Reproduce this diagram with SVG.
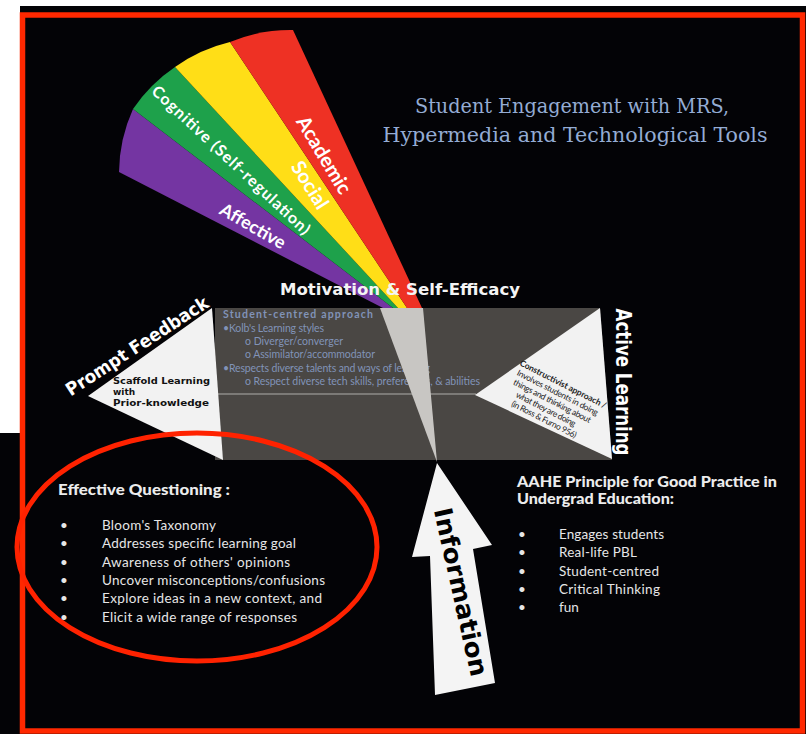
<svg xmlns="http://www.w3.org/2000/svg" width="810" height="734" viewBox="0 0 810 734">
<style>
.heavy{font-family:"DejaVu Sans",sans-serif;font-weight:bold}
.band{font-family:Lato,"Open Sans",sans-serif;font-weight:bold;fill:#ffffff;text-anchor:middle}
.boxt{font-family:Lato,"Open Sans",sans-serif;font-size:10.5px;fill:#8193b8}
.list{font-family:Lato,"Open Sans",sans-serif;font-size:13.5px;fill:#e6e6e6}
.listb{font-family:Lato,"Open Sans",sans-serif;font-size:15px;font-weight:900;fill:#ececec}
.con{font-family:Lato,"Open Sans",sans-serif;font-size:8.5px;fill:#222}
</style>
<rect x="0" y="0" width="810" height="734" fill="#ffffff"/>
<rect x="20" y="6" width="786" height="728" fill="#030306"/>
<rect x="0" y="433" width="22" height="301" fill="#030306"/>
<rect x="22.5" y="15" width="780" height="716" fill="#030306" stroke="#ff2800" stroke-width="5.5"/>

<g id="title">
<text x="572" y="113" font-family="'DejaVu Serif',serif" font-size="20" fill="#94acd4" text-anchor="middle" textLength="314" lengthAdjust="spacingAndGlyphs">Student Engagement with MRS,</text>
<text x="575" y="142" font-family="'DejaVu Serif',serif" font-size="20" fill="#94acd4" text-anchor="middle" textLength="385" lengthAdjust="spacingAndGlyphs">Hypermedia and Technological Tools</text>
</g>

<g id="fan">
<path d="M119,172 A157,157 0 0,1 133,109 L393,308 L383,308 Z" fill="#7435a2"/>
<path d="M133,109 A157,157 0 0,1 175,67 L398,308 L393,308 Z" fill="#1ea14b"/>
<path d="M175,67 A157,157 0 0,1 230,42 L407,308 L398,308 Z" fill="#ffde17"/>
<path d="M230,42 A157,157 0 0,1 293,30 L422,308 L407,308 Z" fill="#ee3124"/>
<text class="band" font-size="20" transform="translate(324,155) rotate(59)" dy="0.35em">Academic</text>
<text class="band" font-size="20" transform="translate(310,185) rotate(58)" dy="0.35em">Social</text>
<text class="band" font-size="16" transform="translate(231,160) rotate(43)" dy="0.35em" textLength="210">Cognitive (Self-regulation)</text>
<text class="band" font-size="18" transform="translate(253,226) rotate(30)" dy="0.35em">Affective</text>
</g>

<g id="motivation">
<text x="280" y="295" class="heavy" font-size="16" fill="#f4f4f4" textLength="240" lengthAdjust="spacingAndGlyphs">Motivation &amp; Self-Efficacy</text>
</g>

<g id="centre-box">
<polygon points="215,308 600,308 612,460 215,460" fill="#4a4744"/>
<text x="223" y="318" class="boxt" font-weight="bold" textLength="150">Student-centred approach</text>
<text x="223" y="332" class="boxt" textLength="101">•Kolb's Learning styles</text>
<text x="245" y="345" class="boxt" textLength="98">o Diverger/converger</text>
<text x="245" y="358" class="boxt" textLength="130">o Assimilator/accommodator</text>
<text x="223" y="372" class="boxt" textLength="207">•Respects diverse talents and ways of learning</text>
<text x="245" y="385" class="boxt" textLength="235">o Respect diverse tech skills, preferences, &amp; abilities</text>
<line x1="218" y1="394" x2="476" y2="394" stroke="#8e8b88" stroke-width="1.5"/>
<polygon points="380,308 423,308 437,462" fill="#c8c6c3"/>
</g>

<g id="prompt-feedback">
<polygon points="212,308 88,396 223,460" fill="#f2f2f2"/>
<text class="heavy" font-size="18" fill="#ffffff" text-anchor="middle" transform="translate(137,346) rotate(-33)" dy="0.35em" textLength="166" lengthAdjust="spacingAndGlyphs">Prompt Feedback</text>
<text x="113" y="384" class="heavy" font-size="9" fill="#111" textLength="97" lengthAdjust="spacingAndGlyphs">Scaffold Learning</text>
<text x="113" y="395" class="heavy" font-size="9" fill="#111">with</text>
<text x="113" y="406" class="heavy" font-size="9" fill="#111" textLength="96" lengthAdjust="spacingAndGlyphs">Prior-knowledge</text>
</g>

<g id="active-learning">
<polygon points="600,308 475,395 612,459" fill="#f2f2f2"/>
<text class="heavy" font-size="21" fill="#ffffff" text-anchor="middle" transform="translate(623,382) rotate(90)" dy="0.35em" textLength="147" lengthAdjust="spacingAndGlyphs">Active Learning</text>
<g transform="translate(519,365) rotate(27)">
<text x="0" y="0" class="con" font-weight="bold" textLength="96">Constructivist approach /</text>
<text x="2" y="10" class="con" textLength="90">Involves students in doing</text>
<text x="3" y="20" class="con" textLength="86">things and thinking about</text>
<text x="11" y="30" class="con" textLength="66">what they are doing</text>
<text x="11" y="40" class="con" textLength="72">(in Ross &amp; Furno 956)</text>
</g>
</g>

<g id="information">
<polygon points="437,463 492,545 473,549 495,683 435,695 430,556 412,557" fill="#f4f4f4"/>
<text class="heavy" font-size="25" fill="#000" text-anchor="middle" transform="translate(461,592) rotate(77.4)" dy="0.35em" textLength="172" lengthAdjust="spacingAndGlyphs">Information</text>
</g>

<g id="effective-questioning">
<ellipse cx="197" cy="547" rx="180" ry="114" fill="none" stroke="#ff2200" stroke-width="5"/>
<text x="58" y="495" class="listb" textLength="172" lengthAdjust="spacingAndGlyphs">Effective Questioning :</text>
<text x="60" y="530" class="list">•</text>
<text x="102" y="530" class="list" textLength="114">Bloom's Taxonomy</text>
<text x="60" y="548" class="list">•</text>
<text x="102" y="548" class="list" textLength="194">Addresses specific learning goal</text>
<text x="60" y="567" class="list">•</text>
<text x="102" y="567" class="list" textLength="188">Awareness of others' opinions</text>
<text x="60" y="585" class="list">•</text>
<text x="102" y="585" class="list" textLength="223">Uncover misconceptions/confusions</text>
<text x="60" y="603" class="list">•</text>
<text x="102" y="603" class="list" textLength="220">Explore ideas in a new context, and</text>
<text x="60" y="622" class="list">•</text>
<text x="102" y="622" class="list" textLength="195">Elicit a wide range of responses</text>
</g>

<g id="aahe">
<text x="517" y="487" class="listb" textLength="260" lengthAdjust="spacingAndGlyphs">AAHE Principle for Good Practice in</text>
<text x="517" y="504" class="listb" textLength="157" lengthAdjust="spacingAndGlyphs">Undergrad Education:</text>
<text x="518" y="539" class="list">•</text>
<text x="559" y="539" class="list" textLength="105">Engages students</text>
<text x="518" y="557" class="list">•</text>
<text x="559" y="557" class="list" textLength="78">Real-life PBL</text>
<text x="518" y="576" class="list">•</text>
<text x="559" y="576" class="list" textLength="100">Student-centred</text>
<text x="518" y="594" class="list">•</text>
<text x="559" y="594" class="list" textLength="101">Critical Thinking</text>
<text x="518" y="612" class="list">•</text>
<text x="559" y="612" class="list">fun</text>
</g>
</svg>
